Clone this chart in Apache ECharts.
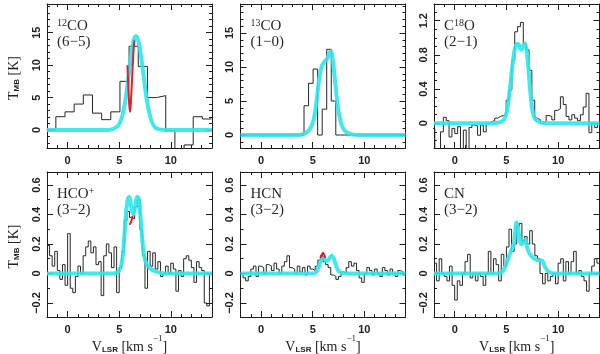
<!DOCTYPE html>
<html>
<head>
<meta charset="utf-8">
<script src="https://cdn.jsdelivr.net/npm/echarts@6/dist/echarts.min.js"></script>
<style>
  html, body { margin: 0; background: #fff; }
  #spectra { width: 600px; height: 354px; }
</style>
</head>
<body>
<div id="spectra"></div>
<script>
var chart = echarts.init(document.getElementById('spectra'));

// velocity axis (km/s) and ticks
const velocityRange = [-2, 14];
const xTickLabels = [0, 5, 10];
const xMinorTicks = [-2, -1, 0, 1, 2, 3, 4, 5, 6, 7, 8, 9, 10, 11, 12, 13, 14];

// y ticks
const yLabelsCO = [0, 5, 10, 15];
const yMinorCO = [-2, -1, 0, 1, 2, 3, 4, 5, 6, 7, 8, 9, 10, 11, 12, 13, 14, 15, 16, 17, 18, 19];
const yLabelsC18O = [0, 0.4, 0.8, 1.2];
const yMinorC18O = [-0.2, -0.1, 0, 0.1, 0.2, 0.3, 0.4, 0.5, 0.6, 0.7, 0.8, 0.9, 1.0, 1.1, 1.2, 1.3];
const yLabelsWeak = [-0.2, 0, 0.2, 0.4, 0.6];
const yMinorWeak = [-0.2, -0.1, 0, 0.1, 0.2, 0.3, 0.4, 0.5, 0.6];

// 12CO(6-5) observed spectrum, channel start / width in km/s, T_MB in K
const co12Start = -2.03, co12Width = 0.888;
const co12Obs = [0, 2.05, 2.8, 4.0, 5.4, 2.6, 1.6, 2.8, 7.5, 12.9, 9.8, 5.0, 5.3, -0.1, -3.2, -2.3, 2.05, 1.7];
const co12Fit = [[-2, 0], [3.8, 0], [4.3, 0.1], [4.7, 0.4], [5.0, 0.9], [5.3, 2.2], [5.6, 4.6], [5.9, 8.2],
  [6.15, 11.4], [6.4, 13.8], [6.62, 14.5], [6.85, 13.8], [7.1, 11.6], [7.35, 8.6], [7.6, 5.5], [7.9, 2.8],
  [8.2, 1.1], [8.5, 0.4], [8.9, 0.1], [9.5, 0], [14, 0]];
const co12Red = [[5.8, 10], [5.88, 7], [5.96, 4.3], [6.04, 2.8], [6.12, 3.8], [6.22, 7], [6.33, 10.5], [6.42, 13], [6.48, 13.8]];

// 13CO(1-0)
const co13Start = -2.0, co13Width = 0.44;
const co13Obs = [0, 0, 0, 0, 0, 0, 0, 0, 0, 0, 0, 0, 0, 0,
  4.3, 7.6, 9.7, 0, 3.8, 12.6, 5.0,
  0, 0, 0, 0, 0, 0, 0, 0, 0, 0, 0, 0, 0, 0, 0, 0];
const co13Fit = [[-2, 0], [3.5, 0], [4.2, 0.2], [4.7, 0.8], [5.1, 2.3], [5.4, 5.3], [5.65, 8.5], [5.9, 10.2],
  [6.15, 10.8], [6.4, 11.2], [6.6, 12], [6.75, 12.3], [6.9, 11.6], [7.1, 9], [7.3, 6], [7.55, 3.2],
  [7.85, 1.3], [8.2, 0.5], [8.8, 0.1], [9.5, 0], [14, 0]];

// C18O(2-1)
const c18oStart = -2.2, c18oWidth = 0.276;
const c18oObs = [-0.06, -0.3, -0.3, -0.1, 0.07, 0.03, -0.16, -0.06, -0.12, -0.04,
  -0.3, -0.08, -0.3, -0.05, -0.02, -0.03, -0.14, -0.02, -0.1, 0.0,
  0.02, 0.03, 0.06, 0.08, 0.09, 0.1, 0.27, 0.39, 0.74, 1.07,
  1.13, 1.18, 0.93, 0.86, 0.62, 0.27, 0.06, 0.04, 0.0, 0.02,
  0.09, 0.08, 0.04, 0.15, 0.17, 0.31, 0.22, 0.08, 0.04, 0.1,
  0.06, 0.03, 0.1, 0.19, 0.35, -0.11, 0.0, -0.05, 0.0];
const c18oFit = [[-2, 0], [3.5, 0], [4.3, 0.01], [4.75, 0.04], [5.05, 0.14], [5.3, 0.36], [5.55, 0.64],
  [5.8, 0.86], [6.05, 0.93], [6.2, 0.92], [6.35, 0.87], [6.45, 0.86], [6.6, 0.9], [6.78, 0.935],
  [6.95, 0.85], [7.1, 0.68], [7.3, 0.38], [7.5, 0.16], [7.7, 0.07], [7.9, 0.035], [8.3, 0.01], [9, 0], [14, 0]];

// HCO+(3-2)
const hcoStart = -2.0, hcoWidth = 0.25;
const hcoObs = [0.19, 0.12, 0.05, 0.15, 0.02, -0.04, 0.06, -0.08, 0.27, -0.1,
  -0.13, -0.02, 0.05, 0.0, 0.12, 0.18, 0.22, 0.14, 0.18, 0.06,
  0.08, -0.15, 0.12, 0.2, 0.14, 0.04, 0.18, -0.13, 0.04, 0.15,
  0.36, 0.42, 0.38, 0.37, 0.45, 0.5, 0.3, 0.12, -0.1, 0.15,
  0.05, 0.14, 0.03, 0.08, -0.02, 0.0, 0.05, 0.0, 0.07, 0.03,
  -0.12, 0.02, -0.02, 0.1, 0.12, 0.09, 0.04, -0.06, 0.08, 0.04,
  0.02, -0.2, -0.22, 0.0];
const hcoFit = [[-2, 0], [4.5, 0], [5.0, 0.02], [5.25, 0.07], [5.45, 0.2], [5.65, 0.4], [5.85, 0.51],
  [6.0, 0.52], [6.15, 0.46], [6.35, 0.4], [6.55, 0.45], [6.75, 0.52], [6.9, 0.51], [7.05, 0.4],
  [7.25, 0.22], [7.45, 0.11], [7.7, 0.06], [8.0, 0.035], [8.5, 0.015], [9.5, 0], [14, 0]];
const hcoRed = [[6.0, 0.33], [6.15, 0.35], [6.3, 0.39]];

// HCN(3-2)
const hcnStart = -2.0, hcnWidth = 0.25;
const hcnObs = [0.0, -0.03, -0.05, -0.02, 0.03, 0.05, -0.02, 0.05, 0.04, 0.0,
  0.06, 0.05, 0.02, 0.07, 0.03, 0.0, 0.05, 0.08, 0.12, 0.04,
  0.03, 0.0, 0.05, 0.01, 0.04, -0.01, 0.05, 0.03, 0.02, 0.05,
  0.09, 0.12, 0.08, 0.06, 0.04, -0.01, -0.02, -0.04, -0.02, 0.01,
  0.0, 0.04, 0.08, 0.05, 0.07, 0.02, -0.03, -0.06, 0.0, 0.04,
  0.02, -0.01, 0.03, 0.0, -0.02, 0.04, 0.02, -0.01, 0.03, 0.0,
  -0.02, 0.02, 0.01, -0.01];
const hcnFit = [[-2, 0], [5.0, 0], [5.35, 0.01], [5.55, 0.04], [5.75, 0.08], [5.95, 0.1], [6.1, 0.1],
  [6.3, 0.085], [6.5, 0.09], [6.7, 0.11], [6.85, 0.12], [7.0, 0.11], [7.2, 0.07], [7.4, 0.03],
  [7.6, 0.012], [7.9, 0.003], [8.5, 0], [14, 0]];
const hcnRed = [[5.75, 0.105], [5.9, 0.13], [6.0, 0.14], [6.1, 0.13], [6.22, 0.105]];

// CN(3-2)
const cnStart = -2.0, cnWidth = 0.25;
const cnObs = [0.07, -0.05, 0.1, 0.0, -0.02, -0.05, 0.05, -0.08, -0.18, -0.05,
  -0.08, 0.0, 0.08, 0.13, -0.03, 0.0, -0.05, 0.0, -0.02, -0.08,
  0.0, 0.15, 0.0, 0.1, 0.06, -0.05, 0.13, 0.05, 0.18, 0.3,
  0.15, 0.2, 0.32, 0.34, 0.22, 0.25, 0.2, 0.29, 0.2, 0.12,
  0.1, 0.0, -0.07, 0.0, -0.05, -0.02, 0.0, -0.07, 0.07, 0.1,
  -0.05, 0.08, 0.0, 0.08, 0.15, 0.0, 0.02, -0.02, -0.05, -0.12,
  0.0, 0.05, 0.1, 0.07];
const cnFit = [[-2, 0], [4.0, 0], [4.5, 0.005], [4.85, 0.04], [5.15, 0.1], [5.45, 0.15], [5.7, 0.2],
  [5.85, 0.28], [5.97, 0.345], [6.1, 0.32], [6.25, 0.25], [6.4, 0.2], [6.55, 0.2], [6.7, 0.22],
  [6.85, 0.23], [7.0, 0.18], [7.2, 0.14], [7.45, 0.115], [7.7, 0.1], [8.0, 0.09], [8.3, 0.09],
  [8.5, 0.085], [8.7, 0.05], [8.9, 0.025], [9.2, 0.008], [9.6, 0], [14, 0]];

// histogram points: left channel edges plus the closing edge
function steps(start, width, values) {
  var pts = values.map(function (v, i) { return [start + i * width, v]; });
  pts.push([start + values.length * width, values[values.length - 1]]);
  return pts;
}

const panels = [
  { box: [47, 4, 165, 144], y: [-2.77, 19.42], yLabels: yLabelsCO, yMinor: yMinorCO,
    obs: steps(co12Start, co12Width, co12Obs), fit: co12Fit, red: co12Red,
    label: '{s|12}{n|CO}\n{n|(6\u22125)}', yTitle: true },
  { box: [240.5, 4, 165, 144], y: [-1.91, 19.26], yLabels: yLabelsCO, yMinor: yMinorCO,
    obs: steps(co13Start, co13Width, co13Obs), fit: co13Fit,
    label: '{s|13}{n|CO}\n{n|(1\u22120)}' },
  { box: [434, 4, 165.5, 144], y: [-0.289, 1.395], yLabels: yLabelsC18O, yMinor: yMinorC18O,
    obs: steps(c18oStart, c18oWidth, c18oObs), fit: c18oFit,
    label: '{n|C}{s|18}{n|O}\n{n|(2\u22121)}' },
  { box: [47, 172, 165, 145], y: [-0.295, 0.688], yLabels: yLabelsWeak, yMinor: yMinorWeak,
    obs: steps(hcoStart, hcoWidth, hcoObs), fit: hcoFit, red: hcoRed,
    label: '{n|HCO}{s|+}\n{n|(3\u22122)}', yTitle: true, xTitle: true },
  { box: [240.5, 172, 165, 145], y: [-0.295, 0.688], yLabels: yLabelsWeak, yMinor: yMinorWeak,
    obs: steps(hcnStart, hcnWidth, hcnObs), fit: hcnFit, red: hcnRed,
    label: '{n|HCN}\n{n|(3\u22122)}', xTitle: true },
  { box: [434, 172, 165.5, 145], y: [-0.295, 0.688], yLabels: yLabelsWeak, yMinor: yMinorWeak,
    obs: steps(cnStart, cnWidth, cnObs), fit: cnFit,
    label: '{n|CN}\n{n|(3\u22122)}', xTitle: true }
];

var ink = '#1c1c1c';
var tickFont = { fontFamily: 'Liberation Sans', fontSize: 11, fontWeight: 'bold', color: '#222' };

function fmt(v) {
  return String(+(+v).toFixed(2)).replace('-', '\u2212');
}

function axisPair(g, pos, range, minorVals, majorVals, withLabels, rotate) {
  var base = { gridIndex: g, type: 'value', min: range[0], max: range[1], position: pos,
    splitLine: { show: false }, silent: true };
  var main = Object.assign({}, base, {
    axisLine: { show: true, onZero: false, lineStyle: { color: ink, width: 1 } },
    axisTick: { show: true, inside: true, length: 3, customValues: minorVals, lineStyle: { color: ink } },
    axisLabel: withLabels ? Object.assign({ customValues: majorVals, margin: rotate ? 5 : 7,
      rotate: rotate || 0, formatter: fmt }, tickFont) : { show: false }
  });
  var major = Object.assign({}, base, {
    axisLine: { show: false, onZero: false },
    axisTick: { show: true, inside: true, length: 6, customValues: majorVals, lineStyle: { color: ink } },
    axisLabel: { show: false }
  });
  return [main, major];
}

var grids = [], xAxes = [], yAxes = [], series = [], graphics = [];
var serif = 'Liberation Serif';

panels.forEach(function (p, g) {
  grids.push({ left: p.box[0], top: p.box[1], width: p.box[2], height: p.box[3] });
  var xi = xAxes.length, yi = yAxes.length;
  xAxes = xAxes.concat(axisPair(g, 'bottom', velocityRange, xMinorTicks, xTickLabels, true));
  xAxes = xAxes.concat(axisPair(g, 'top', velocityRange, xMinorTicks, xTickLabels, false));
  yAxes = yAxes.concat(axisPair(g, 'left', p.y, p.yMinor, p.yLabels, true, 90));
  yAxes = yAxes.concat(axisPair(g, 'right', p.y, p.yMinor, p.yLabels, false));

  series.push({ type: 'line', xAxisIndex: xi, yAxisIndex: yi, data: p.obs, step: 'end',
    symbol: 'none', lineStyle: { color: '#262626', width: 1 }, z: 2 });
  series.push({ type: 'line', xAxisIndex: xi, yAxisIndex: yi, data: p.fit, smooth: 0.3,
    symbol: 'none', lineStyle: { color: '#2ee5ea', width: 4, opacity: 0.9 }, z: 3 });
  if (p.red) {
    series.push({ type: 'line', xAxisIndex: xi, yAxisIndex: yi, data: p.red, smooth: 0.3,
      symbol: 'none', lineStyle: { color: '#e0202c', width: 2 }, z: 4 });
  }

  graphics.push({
    type: 'text', x: p.box[0] + 10, y: p.box[1] + 14,
    style: {
      text: p.label, fill: '#2a2a2a',
      rich: {
        n: { fontFamily: serif, fontSize: 15, lineHeight: 16, verticalAlign: 'bottom', fill: '#2a2a2a' },
        s: { fontFamily: serif, fontSize: 10, lineHeight: 16, verticalAlign: 'top', fill: '#2a2a2a' }
      }
    }
  });
  if (p.yTitle) {
    graphics.push({
      type: 'text', x: 11, y: p.box[1] + p.box[3] / 2 + 2, rotation: Math.PI / 2,
      style: {
        text: '{n|T}{b|MB}{n| [K]}', align: 'center', verticalAlign: 'middle', fill: '#222',
        rich: {
          n: { fontFamily: serif, fontSize: 14, lineHeight: 16, verticalAlign: 'bottom', fill: '#222' },
          b: { fontFamily: 'Liberation Sans', fontSize: 8, fontWeight: 'bold', lineHeight: 20, verticalAlign: 'bottom', fill: '#222' }
        }
      }
    });
  }
  if (p.xTitle) {
    graphics.push({
      type: 'text', x: p.box[0] + p.box[2] / 2, y: 344,
      style: {
        text: '{n|V}{b|LSR}{n| [km s}{s|\u22121}{n|]}', align: 'center', verticalAlign: 'middle', fill: '#222',
        rich: {
          n: { fontFamily: serif, fontSize: 14, lineHeight: 16, verticalAlign: 'bottom', fill: '#222' },
          b: { fontFamily: 'Liberation Sans', fontSize: 8, fontWeight: 'bold', lineHeight: 20, verticalAlign: 'bottom', fill: '#222' },
          s: { fontFamily: serif, fontSize: 9, lineHeight: 16, verticalAlign: 'top', fill: '#222' }
        }
      }
    });
  }
});

chart.setOption({
  animation: false,
  backgroundColor: '#fff',
  grid: grids,
  xAxis: xAxes,
  yAxis: yAxes,
  series: series,
  graphic: graphics
});
</script>
</body>
</html>
